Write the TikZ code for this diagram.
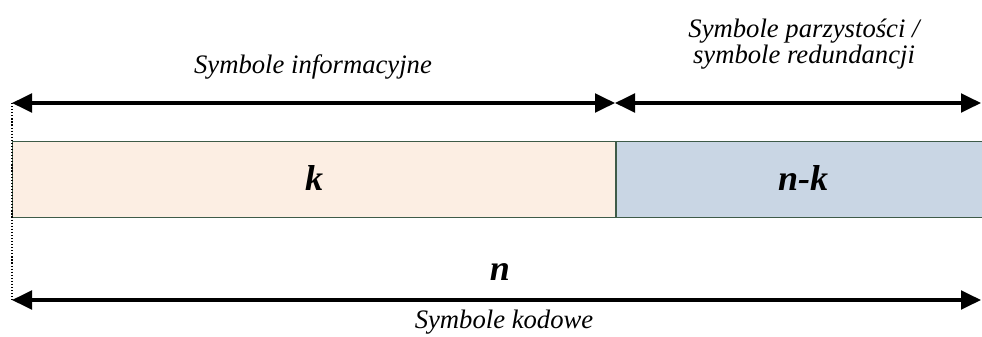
\documentclass[tikz,border=0pt]{standalone}
\usepackage{fontspec}
\setmainfont{Liberation Serif}
\usetikzlibrary{arrows.meta}
\definecolor{InfoFill}{HTML}{FCEEE3}
\definecolor{ParFill}{HTML}{C9D6E4}
\definecolor{BoxLine}{HTML}{3E5B48}

\begin{document}
\begin{tikzpicture}[x=0.75pt,y=-0.75pt,
  dimarrow/.style={line width=2.3pt,{Triangle[length=15pt,width=14pt]}-{Triangle[length=15pt,width=14pt]}},
  caption/.style={font=\itshape\fontsize{20}{17.25}\selectfont,align=center,inner sep=0pt},
  symbol/.style={font=\bfseries\itshape\fontsize{27}{30}\selectfont,inner sep=0pt,anchor=base},
  part/.style={draw=BoxLine,line width=0.75pt,inner sep=0pt,minimum height=57pt,anchor=north west}]
\path[use as bounding box] (0,0) rectangle (982,336);
% code word blocks
\node[part,fill=InfoFill,minimum width=452.25pt] (info) at (12,141) {};
\node[part,fill=ParFill,minimum width=275.25pt] (par) at (info.north east) {};
\node[symbol] (k) at (314,190) {k};
\node[symbol] (nk) at (803,190) {n-k};
% dimension lines
\coordinate (topL) at (12,103);
\coordinate (topM) at (615,103);
\coordinate (topR) at (981,103);
\coordinate (botL) at (12,300);
\coordinate (botR) at (981,300);
\draw[dimarrow] (topL) -- (topM);
\draw[dimarrow] (topM) -- (topR);
\draw[dimarrow] (botL) -- (botR);
\draw[line width=0.9pt,dash pattern=on 0.9pt off 1.4pt] (topL) -- (botL);
% labels
\node[caption,anchor=base] (infolbl) at (313,73) {Symbole informacyjne};
\node[caption,anchor=north] (parlbl) at (804,19) {Symbole parzystości /\\symbole redundancji};
\node[symbol] (n) at (500,280) {n};
\node[caption,anchor=base] (codelbl) at (504,328) {Symbole kodowe};
\end{tikzpicture}
\end{document}
